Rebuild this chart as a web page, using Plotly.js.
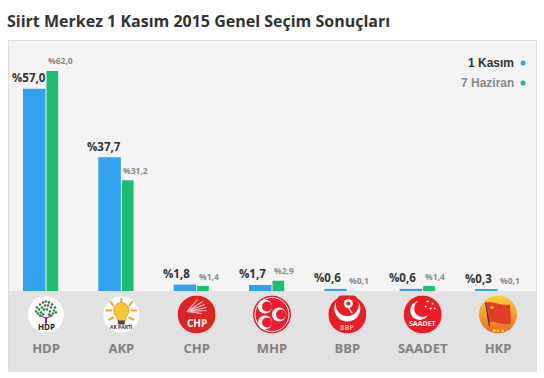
<!DOCTYPE html>
<html><head><meta charset="utf-8">
<script src="https://cdn.plot.ly/plotly-3.0.1.min.js"></script>
<style>html,body{margin:0;padding:0;background:#fff;overflow:hidden}#c{width:544px;height:378px}</style>
</head><body><div id="c"></div>
<script>
const parties = ['HDP','AKP','CHP','MHP','BBP','SAADET','HKP'];
const kasim = [57.0,37.7,1.8,1.7,0.6,0.6,0.3];
const haziran = [62.0,31.2,1.4,2.9,0.1,1.4,0.1];
const seriesNames = ['1 Kasım','7 Haziran'];
const chartTitle = 'Siirt Merkez 1 Kasım 2015 Genel Seçim Sonuçları';

const W=544,H=378,L=9,R=536,T=41,B=291;
const step=75.33, pw=R-L, ph=B-T;
const px=v=>(v-L)/pw, py=v=>(B-v)/ph;
const fmt=v=>'%'+v.toFixed(1).replace('.',',');
const BLUE='#32a2ee', GREEN='#1cbc73';

const svg=(b)=>'data:image/svg+xml;utf8,'+encodeURIComponent('<svg xmlns="http://www.w3.org/2000/svg" width="76" height="76" viewBox="0 0 38 38">'+b+'</svg>');
const crescent=(cx,cy,r,ox,oy,ir,col,bg)=>`<circle cx="${cx}" cy="${cy}" r="${r}" fill="${col}"/><circle cx="${cx+ox}" cy="${cy+oy}" r="${ir}" fill="${bg}"/>`;
const leafs=[[10,12],[13,9],[16,7],[19,6],[22,7],[25,9],[28,12],[9,16],[12,14],[15,12],[18,10],[21,10],[24,12],[27,15],[29,17],[11,18],[14,17],[17,14],[20,14],[23,16],[26,18],[13,20],[16,19],[24,20],[22,19]];
const logos={
 HDP:'<circle cx="19" cy="19" r="18" fill="#fff"/>'+leafs.map((p,i)=>`<circle cx="${p[0]}" cy="${p[1]}" r="1.3" fill="${i%9==2?'#b0268a':'#1f8a3c'}"/>`).join('')+'<path d="M12 20 L18 23 L18 28 L20 28 L20 23 L26 20 L24 20 L19.5 22 L19 20 L18.5 22 L14 20Z" fill="#7d2a8c"/>',
 AKP:'<circle cx="19" cy="19" r="18" fill="#fff"/><g stroke="#f2a52a" stroke-width="2" stroke-linecap="round"><path d="M19 3V7M8 6L11 10M30 6L27 10M4 15H9M34 15H29M7 24L11 22M31 24L27 22"/></g><path d="M19 7a8 8 0 0 1 5 14l-1 4h-8l-1-4a8 8 0 0 1 5-14z" fill="#f6c531" stroke="#c88a1a" stroke-width=".6"/><rect x="15.5" y="25" width="7" height="4" fill="#4b4b4b"/>',
 CHP:'<circle cx="19" cy="19" r="19" fill="#de2323"/><g stroke="#f6c9c9" stroke-width="1.1"><path d="M9 16L20 4M9 16L25 6M9 16L27 9M9 16L29 12M9 16L29 15M9 16L24 18"/></g>',
 MHP:'<circle cx="19" cy="19" r="19" fill="#ee1c2e"/><circle cx="19" cy="19" r="17" fill="none" stroke="#fff" stroke-width="1"/>'+crescent(12,11,7,2,0,5,'#fff','#ee1c2e')+crescent(12,27,7,2,0,5,'#fff','#ee1c2e')+crescent(26,19,7,2,0,5,'#fff','#ee1c2e'),
 BBP:'<circle cx="19" cy="19" r="19" fill="#ed1c24"/>'+crescent(19,13,13,0,-4,11.5,'#fff','#ed1c24')+'<circle cx="20" cy="8" r="4.5" fill="#fff"/><circle cx="20" cy="8" r="2" fill="#ed1c24"/><path d="M20 12L24 18" stroke="#fff" stroke-width="1.2"/>',
 SAADET:'<circle cx="19" cy="19" r="19" fill="#ed1c24"/>'+crescent(16,15,9.5,3,-2,8.5,'#fff','#ed1c24')+[[24,6],[29,8],[22,11],[27,13],[31,13]].map(p=>`<circle cx="${p[0]}" cy="${p[1]}" r="1.1" fill="#fff"/>`).join(''),
 HKP:'<defs><linearGradient id="g" x1="0" y1="0" x2="0" y2="1"><stop offset="0" stop-color="#fdd22f"/><stop offset="1" stop-color="#e9682a"/></linearGradient></defs><circle cx="19" cy="19" r="19" fill="url(#g)"/><path d="M7 7C14 5 22 11 31 9L32 28C24 31 17 24 9 27Z" fill="#e23d2b"/><path d="M6.500 7L10.500 31" stroke="#3a2a20" stroke-width="1"/><circle cx="13" cy="12" r="1.500" fill="#fde13a"/><g fill="#f6d32c"><circle cx="15" cy="35" r="1.500"/><circle cx="19" cy="35" r="1.500"/><circle cx="23.500" cy="35" r="1.500"/></g>'
};
const logoText={HDP:{t:'HDP',c:'#222',s:8,y:326},AKP:{t:'AK PARTİ',c:'#333',s:5,y:327},CHP:{t:'CHP',c:'#fff',s:10,y:323},BBP:{t:'BBP',c:'#fbb',s:7,y:327},SAADET:{t:'SAADET',c:'#fff',s:7,y:323.5}};

const barTrace=(name,vals,col,off,wid)=>({type:'bar',name,x:parties,y:vals,marker:{color:vals.map(v=>v<0.25?'rgba(0,0,0,0)':col),line:{width:0}},offset:off,width:wid,hoverinfo:'x+y',showlegend:false});
const traces=[
 barTrace(seriesNames[0],kasim,BLUE,-23/step,22.5/step),
 barTrace(seriesNames[1],haziran,GREEN,0.5/step,11.7/step)
];

const annotations=[];
parties.forEach((p,i)=>{
 annotations.push({x:i,xref:'x',y:kasim[i],yref:'y',text:'<b>'+fmt(kasim[i])+'</b>',showarrow:false,xanchor:'center',yanchor:'middle',yshift:11,xshift:kasim[i]>=10?-17:-20,font:{family:'Open Sans',size:11.5,color:'#333'}});
 annotations.push({x:i,xref:'x',y:haziran[i],yref:'y',text:'<b>'+fmt(haziran[i])+'</b>',showarrow:false,xanchor:'center',yanchor:'middle',yshift:10,xshift:haziran[i]>=10?14:12,font:{family:'Open Sans',size:8.5,color:'#8a8a8a'}});
 const lt=logoText[p];
 if(lt) annotations.push({x:i,xref:'x',yref:'paper',y:py(lt.y),text:'<b>'+lt.t+'</b>',showarrow:false,xanchor:'center',yanchor:'middle',font:{family:'Open Sans',size:lt.s,color:lt.c}});
});
annotations.push({xref:'paper',yref:'paper',x:px(516),y:py(63),xanchor:'right',yanchor:'middle',showarrow:false,text:'<b>'+seriesNames[0]+'</b>',font:{family:'Liberation Sans',size:12,color:'#333'}});
annotations.push({xref:'paper',yref:'paper',x:px(516),y:py(83),xanchor:'right',yanchor:'middle',showarrow:false,text:'<b>'+seriesNames[1]+'</b>',font:{family:'Liberation Sans',size:12,color:'#888'}});

const rectP=(x0,y0,x1,y1,fill,line)=>({type:'rect',xref:'paper',yref:'paper',x0:px(x0),x1:px(x1),y0:py(y0),y1:py(y1),fillcolor:fill,line:{width:line?1:0,color:line||fill},layer:'below'});
const dot=(x,y,c)=>({type:'circle',xref:'paper',yref:'paper',x0:px(x-2.5),x1:px(x+2.5),y0:py(y-2.5),y1:py(y+2.5),fillcolor:c,line:{width:0}});
const shapes=[
 rectP(8.5,40.5,536.5,371.5,'#f4f4f4','#dddddd'),
 rectP(9,291,536,371,'#e2e2e2'),
 dot(523,63,BLUE),dot(523,83,GREEN)
];
const images=parties.map((p,i)=>({source:svg(logos[p]),xref:'x',yref:'paper',x:i,y:py(314.5),xanchor:'center',yanchor:'middle',sizex:38/step,sizey:38/ph,sizing:'stretch',layer:'above'}));

const layout={
 width:W,height:H,margin:{l:L,r:W-R,t:T,b:H-B,pad:0},
 paper_bgcolor:'#fff',plot_bgcolor:'rgba(0,0,0,0)',
 title:{text:'<b>'+chartTitle+'</b>',xref:'container',yref:'container',x:7/W,xanchor:'left',y:1-21/H,yanchor:'middle',pad:{l:0,t:0,b:0,r:0},font:{family:'Open Sans',size:16,color:'#333'}},
 barmode:'overlay',showlegend:false,
 xaxis:{type:'category',categoryorder:'array',categoryarray:parties,tickmode:'array',tickvals:parties,ticktext:parties.map(p=>'<b>'+p+'</b>'),range:[-37/step,6+38/step],showgrid:false,zeroline:false,showline:false,ticks:'',ticklabelstandoff:48,tickangle:0,tickfont:{family:'Open Sans',size:13,color:'#808080'},fixedrange:true},
 yaxis:{range:[0,ph/3.55],visible:false,showgrid:false,zeroline:false,fixedrange:true},
 annotations,shapes,images
};
Plotly.newPlot('c',traces,layout,{displayModeBar:false,responsive:false});
</script></body></html>
